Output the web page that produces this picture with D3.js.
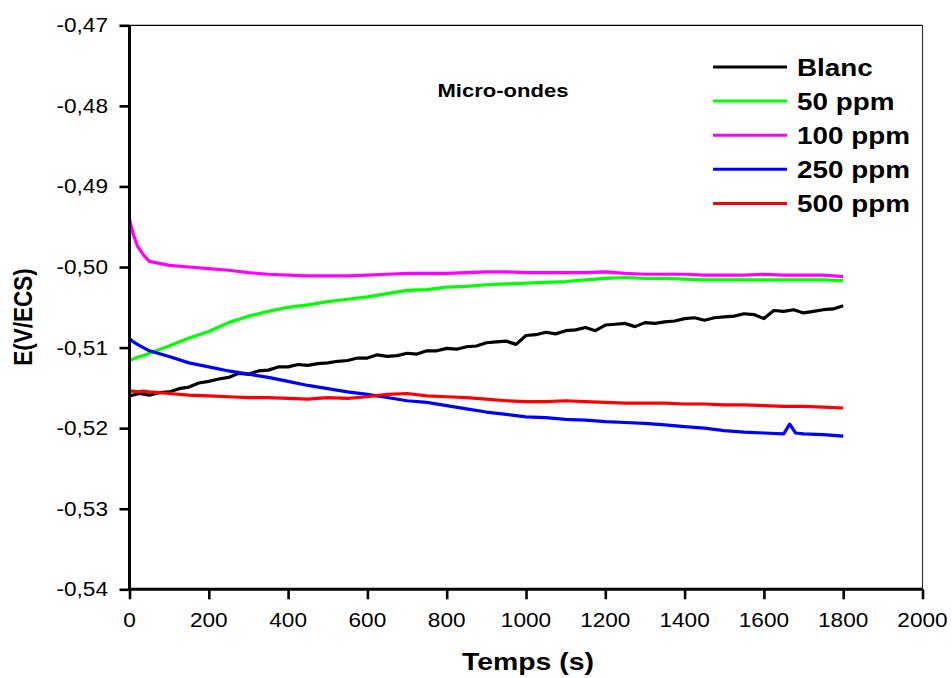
<!DOCTYPE html>
<html>
<head>
<meta charset="utf-8">
<script src="https://cdn.jsdelivr.net/npm/d3@7"></script>
<style>
  html, body { margin: 0; padding: 0; background: #fff; }
  svg { display: block; font-family: "Liberation Sans", Arial, sans-serif; }
</style>
</head>
<body>
<svg id="chart" width="952" height="678"></svg>
<script>
// Open-circuit potential vs. time, microwave extract at several concentrations
const times = [0, 10, 20, 35, 50,
  100, 150, 200, 250, 300, 350, 400, 450, 500, 550,
  600, 650, 700, 750, 800, 850, 900, 950, 1000, 1050,
  1100, 1150, 1200, 1250, 1300, 1350, 1400, 1450, 1500, 1550,
  1600, 1650, 1665, 1680, 1700, 1750, 1800];

// the blank run is noisier, so it is sampled more finely
const blancTimes = [0, 25, 50, 75, 100, 125, 150, 175, 200, 225,
  250, 275, 300, 325, 350, 375, 400, 425, 450, 475,
  500, 525, 550, 575, 600, 625, 650, 675, 700, 725,
  750, 775, 800, 825, 850, 875, 900, 925, 950, 975,
  1000, 1025, 1050, 1075, 1100, 1125, 1150, 1175, 1200, 1225,
  1250, 1275, 1300, 1325, 1350, 1375, 1400, 1425, 1450, 1475,
  1500, 1525, 1550, 1575, 1600, 1625, 1650, 1675, 1700, 1725,
  1750, 1775, 1800];

const blanc = [-0.5160, -0.5157, -0.5159, -0.5156, -0.5155, -0.5151, -0.5149, -0.5144, -0.5142, -0.5139,
  -0.5137, -0.5132, -0.5133, -0.5129, -0.5128, -0.5124, -0.5124, -0.5121, -0.5122, -0.5120,
  -0.5119, -0.5117, -0.5116, -0.5113, -0.5113, -0.5109, -0.5111, -0.5110, -0.5107, -0.5108,
  -0.5104, -0.5104, -0.5101, -0.5102, -0.5099, -0.5098, -0.5094, -0.5093, -0.5092, -0.5096,
  -0.5085, -0.5084, -0.5081, -0.5083, -0.5079, -0.5078, -0.5075, -0.5079, -0.5072, -0.5071,
  -0.5070, -0.5074, -0.5069, -0.5070, -0.5068, -0.5067, -0.5064, -0.5063, -0.5066, -0.5063,
  -0.5062, -0.5061, -0.5058, -0.5059, -0.5064, -0.5054, -0.5055, -0.5053, -0.5057, -0.5055,
  -0.5053, -0.5052, -0.5048];

const ppm50 = [-0.5116, -0.5114, -0.5112, -0.5110, -0.5107,
  -0.5098, -0.5088, -0.5080, -0.5069, -0.5061, -0.5055, -0.5050, -0.5047, -0.5043, -0.5040,
  -0.5037, -0.5033, -0.5029, -0.5028, -0.5025, -0.5024, -0.5022, -0.5021, -0.5020, -0.5019,
  -0.5018, -0.5016, -0.5014, -0.5013, -0.5014, -0.5014, -0.5015, -0.5016, -0.5016, -0.5016,
  -0.5016, -0.5016, -0.5016, -0.5016, -0.5016, -0.5016, -0.5017];

const ppm100 = [-0.4941, -0.4960, -0.4974, -0.4985, -0.4993,
  -0.4998, -0.5000, -0.5002, -0.5004, -0.5007, -0.5009, -0.5010, -0.5011, -0.5011, -0.5011,
  -0.5010, -0.5009, -0.5008, -0.5008, -0.5008, -0.5007, -0.5006, -0.5006, -0.5007, -0.5007,
  -0.5007, -0.5007, -0.5006, -0.5008, -0.5009, -0.5009, -0.5009, -0.5010, -0.5010, -0.5010,
  -0.5009, -0.5010, -0.5010, -0.5010, -0.5010, -0.5010, -0.5012];

const ppm250 = [-0.5089, -0.5093, -0.5096, -0.5100, -0.5104,
  -0.5111, -0.5119, -0.5124, -0.5129, -0.5133, -0.5137, -0.5142, -0.5147, -0.5151, -0.5155,
  -0.5158, -0.5162, -0.5166, -0.5168, -0.5172, -0.5176, -0.5180, -0.5183, -0.5186, -0.5187,
  -0.5189, -0.5190, -0.5192, -0.5193, -0.5194, -0.5196, -0.5198, -0.5200, -0.5203, -0.5205,
  -0.5206, -0.5207, -0.5195, -0.5206, -0.5207, -0.5208, -0.5210];

const ppm500 = [-0.5154, -0.5154, -0.5155, -0.5154, -0.5155,
  -0.5157, -0.5159, -0.5160, -0.5161, -0.5162, -0.5162, -0.5163, -0.5164, -0.5162, -0.5163,
  -0.5161, -0.5158, -0.5157, -0.5160, -0.5161, -0.5162, -0.5164, -0.5166, -0.5167, -0.5167,
  -0.5166, -0.5167, -0.5168, -0.5169, -0.5169, -0.5169, -0.5170, -0.5170, -0.5171, -0.5171,
  -0.5172, -0.5173, -0.5173, -0.5173, -0.5173, -0.5174, -0.5175];

const seriesNames = ["Blanc", "50 ppm", "100 ppm", "250 ppm", "500 ppm"];
const seriesValues = [blanc, ppm50, ppm100, ppm250, ppm500];
const seriesTimes = [blancTimes, times, times, times, times];
const seriesColors = ["#000000", "#00ff00", "#ff00ff", "#0000ff", "#ff0000"];

const xTicks = [0, 200, 400, 600, 800, 1000, 1200, 1400, 1600, 1800, 2000];
const yTicks = [-0.47, -0.48, -0.49, -0.50, -0.51, -0.52, -0.53, -0.54];

const chartTitle = "Micro-ondes";
const xTitle = "Temps (s)";
const yTitle = "E(V/ECS)";

// Plot frame in pixels
const plotLeft = 129.5, plotRight = 922.5, plotTop = 25.3, plotBottom = 589.3;
const stretch = 1.16; // glyphs are drawn slightly wide

const svg = d3.select("#chart");
const x = d3.scaleLinear().domain([0, 2000]).range([plotLeft, plotRight]);
const y = d3.scaleLinear().domain([-0.54, -0.47]).range([plotBottom, plotTop]);

const fmt = d => d3.format(".2f")(d).replace(".", ",").replace("−", "-");

// Frame: thin top and right edges
svg.append("line").attr("x1", plotLeft).attr("x2", plotRight).attr("y1", plotTop).attr("y2", plotTop)
  .attr("stroke", "#000").attr("stroke-width", 1.2);
svg.append("line").attr("x1", plotRight).attr("x2", plotRight).attr("y1", plotTop).attr("y2", plotBottom)
  .attr("stroke", "#333").attr("stroke-width", 1.2);

// Data lines
svg.append("g").selectAll("path")
  .data(seriesValues)
  .join("path")
  .attr("d", (vals, k) => d3.line()
      .x((d, i) => x(seriesTimes[k][i]))
      .y(d => y(d))(vals))
  .attr("fill", "none")
  .attr("stroke", (d, i) => seriesColors[i])
  .attr("stroke-width", 3.2)
  .attr("stroke-linejoin", "round");

// Axes
const xAxis = svg.append("g").attr("transform", `translate(0,${plotBottom})`)
  .call(d3.axisBottom(x).tickValues(xTicks).tickSize(10).tickFormat(""));
const yAxis = svg.append("g").attr("transform", `translate(${plotLeft},0)`)
  .call(d3.axisLeft(y).tickValues(yTicks).tickSize(10).tickFormat(""));
[xAxis, yAxis].forEach(a => {
  a.select(".domain").attr("stroke", "#000").attr("stroke-width", 3);
  a.selectAll(".tick line").attr("stroke", "#000").attr("stroke-width", 2.6);
});
// square the domain ends so the path has no outer ticks
xAxis.select(".domain").attr("d", `M${plotLeft - 1.5},0H${plotRight}`);
yAxis.select(".domain").attr("d", `M0,${plotBottom + 1.5}V${plotTop}`);

// Tick labels
svg.append("g").selectAll("text")
  .data(xTicks).join("text")
  .attr("transform", d => `translate(${x(d)},627) scale(${stretch},1)`)
  .attr("text-anchor", "middle")
  .attr("font-size", 19.5)
  .text(d => d);
svg.append("g").selectAll("text")
  .data(yTicks).join("text")
  .attr("transform", d => `translate(108,${y(d) + 7}) scale(${stretch},1)`)
  .attr("text-anchor", "end")
  .attr("font-size", 19.5)
  .text(d => fmt(d));

// Axis titles
svg.append("text")
  .attr("transform", `translate(528,670) scale(${stretch},1)`)
  .attr("text-anchor", "middle")
  .attr("font-size", 24.5).attr("font-weight", "bold")
  .text(xTitle);
svg.append("text")
  .attr("transform", `translate(32,317) rotate(-90) scale(1,${stretch})`)
  .attr("text-anchor", "middle")
  .attr("font-size", 22.5).attr("font-weight", "bold")
  .text(yTitle);

// Panel title
svg.append("text")
  .attr("transform", `translate(503,96.5) scale(${stretch},1)`)
  .attr("text-anchor", "middle")
  .attr("font-size", 19).attr("font-weight", "bold")
  .text(chartTitle);

// Legend
const legend = svg.append("g").selectAll("g")
  .data(seriesNames).join("g")
  .attr("transform", (d, i) => `translate(0,${67 + i * 34.1})`);
legend.append("line")
  .attr("x1", 713).attr("x2", 787).attr("y1", 0).attr("y2", 0)
  .attr("stroke", (d, i) => seriesColors[i]).attr("stroke-width", 3);
legend.append("text")
  .attr("transform", `translate(797,9) scale(${stretch},1)`)
  .attr("font-size", 24).attr("font-weight", "bold")
  .text(d => d);
</script>
</body>
</html>
